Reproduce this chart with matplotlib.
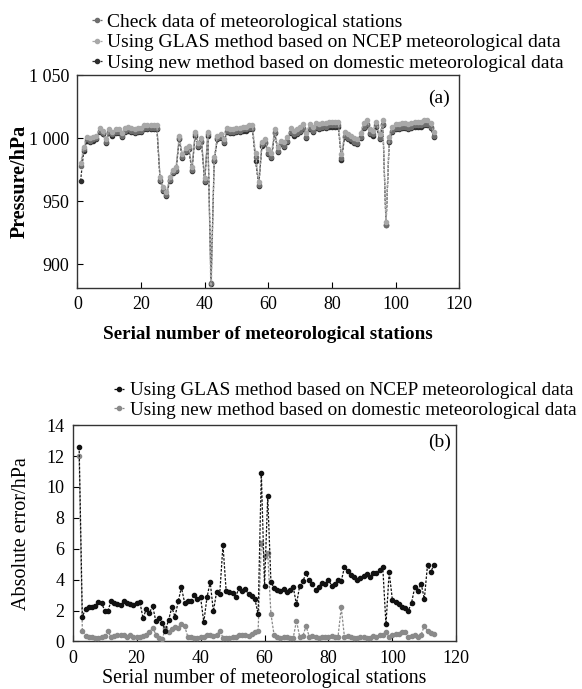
import numpy as np
import matplotlib
matplotlib.use("Agg")
import matplotlib.pyplot as plt

plt.rcParams['font.family'] = ['Liberation Serif', 'DejaVu Serif']

# ---- panel (a): pressure at stations 1..112 ----
stations_a = np.arange(1, 113)
check_data = [
    978, 991, 999, 998, 999, 1000, 1006, 1004, 997, 1005,
    1003, 1005, 1005, 1002, 1006, 1007, 1006, 1005, 1006, 1006,
    1008, 1008, 1008, 1008, 1008, 967, 959, 955, 967, 973,
    975, 1000, 985, 990, 992, 975, 1003, 994, 998, 966,
    1003, 885, 983, 1000, 1001, 997, 1006, 1005, 1005, 1006,
    1006, 1007, 1007, 1008, 1008, 985, 963, 995, 997, 988,
    985, 1005, 990, 996, 994, 998, 1005, 1003, 1004, 1006,
    1008, 1001, 1008, 1006, 1009, 1008, 1009, 1009, 1010, 1010,
    1010, 1010, 984, 1002, 1000, 999, 997, 996, 1001, 1009,
    1011, 1004, 1003, 1010, 1000, 1011, 931, 998, 1006, 1008,
    1008, 1009, 1009, 1008, 1009, 1010, 1010, 1010, 1011, 1011,
    1009, 1002]
glas_pressure = [
    980, 993, 1001, 1000, 1001, 1002, 1008, 1006, 999, 1007,
    1005, 1007, 1007, 1004, 1008, 1009, 1008, 1007, 1008, 1008,
    1010, 1010, 1010, 1010, 1010, 969, 961, 957, 969, 975,
    977, 1002, 987, 992, 994, 977, 1005, 996, 1000, 968,
    1005, 870, 985, 1002, 1003, 999, 1008, 1007, 1007, 1008,
    1008, 1009, 1009, 1010, 1010, 988, 965, 997, 999, 991,
    988, 1007, 993, 998, 997, 1001, 1008, 1006, 1007, 1009,
    1011, 1004, 1011, 1009, 1012, 1011, 1012, 1012, 1013, 1013,
    1013, 1013, 987, 1005, 1003, 1002, 1000, 999, 1004, 1012,
    1014, 1007, 1006, 1013, 1003, 1014, 933, 1001, 1009, 1011,
    1011, 1012, 1012, 1011, 1012, 1013, 1013, 1013, 1014, 1014,
    1012, 1005]
new_pressure = [
    966, 990, 998, 997, 998, 999, 1005, 1003, 996, 1004,
    1002, 1004, 1004, 1001, 1005, 1006, 1005, 1004, 1005, 1005,
    1007, 1007, 1007, 1007, 1007, 966, 958, 954, 966, 972,
    974, 999, 984, 989, 991, 974, 1002, 993, 997, 965,
    1002, 884, 982, 999, 1000, 996, 1005, 1004, 1004, 1005,
    1005, 1006, 1006, 1007, 1007, 982, 962, 994, 996, 987,
    984, 1004, 989, 995, 993, 997, 1004, 1002, 1003, 1005,
    1007, 1000, 1007, 1005, 1008, 1007, 1008, 1008, 1009, 1009,
    1009, 1009, 983, 1001, 999, 998, 996, 995, 1000, 1008,
    1010, 1003, 1002, 1009, 999, 1010, 931, 997, 1005, 1007,
    1007, 1008, 1008, 1007, 1008, 1009, 1009, 1009, 1010, 1010,
    1008, 1001]

# ---- panel (b): absolute error at stations 2..113 ----
stations_b = np.arange(2, 114)
glas_error = [
    12.6, 1.6, 2.1, 2.2, 2.25, 2.3, 2.55, 2.5, 2.0, 2.0,
    2.6, 2.5, 2.4, 2.35, 2.6, 2.5, 2.4, 2.35, 2.5, 2.55,
    1.5, 2.1, 1.85, 2.3, 1.3, 1.55, 1.2, 0.7, 1.4, 2.2,
    1.6, 2.6, 3.5, 2.5, 2.6, 2.6, 3.0, 2.75, 2.85, 1.25,
    2.85, 3.85, 1.95, 3.2, 3.1, 6.25, 3.25, 3.2, 3.15, 2.9,
    3.45, 3.25, 3.4, 3.05, 2.95, 2.75, 1.75, 10.9, 3.6, 9.4,
    3.85, 3.45, 3.35, 3.25, 3.4, 3.2, 3.3, 3.5, 2.4, 3.6,
    3.9, 4.4, 3.95, 3.7, 3.3, 3.55, 3.8, 3.7, 4.0, 3.6,
    3.75, 3.95, 3.9, 4.8, 4.55, 4.3, 4.15, 3.95, 4.1, 4.25,
    4.35, 4.15, 4.4, 4.45, 4.65, 4.8, 1.1, 4.5, 2.7, 2.55,
    2.4, 2.25, 2.15, 2.0, 2.5, 3.5, 3.25, 3.75, 2.75, 4.95,
    4.5, 4.95]
new_error = [
    12.0, 0.7, 0.37, 0.3, 0.27, 0.2, 0.22, 0.27, 0.35, 0.65,
    0.27, 0.35, 0.44, 0.44, 0.44, 0.3, 0.4, 0.27, 0.3, 0.3,
    0.35, 0.42, 0.58, 0.9, 0.45, 0.2, 0.16, 0.84, 0.63, 0.78,
    0.95, 0.9, 1.15, 1.0, 0.3, 0.3, 0.2, 0.25, 0.3, 0.3,
    0.4, 0.45, 0.35, 0.4, 0.7, 0.25, 0.2, 0.2, 0.3, 0.3,
    0.4, 0.45, 0.4, 0.35, 0.5, 0.6, 0.7, 6.4, 5.5, 5.7,
    1.8, 0.4, 0.3, 0.25, 0.3, 0.3, 0.2, 0.25, 1.35, 0.3,
    0.35, 1.0, 0.3, 0.35, 0.3, 0.25, 0.3, 0.3, 0.3, 0.35,
    0.3, 0.3, 2.2, 0.3, 0.35, 0.3, 0.25, 0.2, 0.3, 0.3,
    0.25, 0.25, 0.35, 0.3, 0.4, 0.45, 0.6, 0.3, 0.45, 0.5,
    0.5, 0.6, 0.6, 0.3, 0.35, 0.4, 0.3, 0.45, 1.0, 0.7,
    0.55, 0.5]

fig = plt.figure(figsize=(5.82, 6.89), dpi=100)
ax1 = fig.add_axes([0.133, 0.582, 0.656, 0.309])
ax2 = fig.add_axes([0.125, 0.069, 0.659, 0.314])

style = dict(linestyle=(0, (2, 1.2)), linewidth=0.9, marker='o', markersize=3.0)

ax1.plot(stations_a, new_pressure, color='#2e2e2e', label='Using new method based on domestic meteorological data', zorder=3, **style)
ax1.plot(stations_a, check_data, color='#6e6e6e', label='Check data of meteorological stations', zorder=4, **style)
ax1.plot(stations_a, glas_pressure, color='#a8a8a8', label='Using GLAS method based on NCEP meteorological data', zorder=5, **style)

ax1.set_xlim(0, 120)
ax1.set_ylim(881, 1050)
ax1.set_xticks([0, 20, 40, 60, 80, 100, 120])
ax1.set_yticks([900, 950, 1000, 1050])
ax1.set_yticklabels(['900', '950', '1 000', '1 050'])
ax1.tick_params(direction='in', length=4, labelsize=13, pad=6, top=False, right=False)
ax1.set_xlabel('Serial number of meteorological stations', fontsize=13.8, fontweight='bold', labelpad=9)
ax1.set_ylabel('Pressure/hPa', fontsize=14.5, fontweight='bold', labelpad=-1)
ax1.text(0.975, 0.93, '(a)', transform=ax1.transAxes, fontsize=14, ha='right', va='top')

h, l = ax1.get_legend_handles_labels()
order = [1, 2, 0]
ax1.legend([h[i] for i in order], [l[i] for i in order], loc='lower left',
           bbox_to_anchor=(0.038, 1.015), frameon=False, fontsize=14,
           handlelength=0.5, handletextpad=0.3, labelspacing=0.15,
           borderpad=0, borderaxespad=0)

ax2.plot(stations_b, glas_error, color='#111111', label='Using GLAS method based on NCEP meteorological data', zorder=4, **style)
ax2.plot(stations_b, new_error, color='#8a8a8a', label='Using new method based on domestic meteorological data', zorder=3, **style)

ax2.set_xlim(0, 120)
ax2.set_ylim(0, 14)
ax2.set_xticks([0, 20, 40, 60, 80, 100, 120])
ax2.set_yticks(range(0, 15, 2))
ax2.tick_params(direction='in', length=4, labelsize=13, pad=6, top=False, right=False)
ax2.set_xlabel('Serial number of meteorological stations', fontsize=14.3, labelpad=1)
ax2.set_ylabel('Absolute error/hPa', fontsize=14.5, labelpad=11)
ax2.text(0.985, 0.96, '(b)', transform=ax2.transAxes, fontsize=14, ha='right', va='top')
ax2.legend(loc='lower left', bbox_to_anchor=(0.108, 1.028), frameon=False, fontsize=13.8,
           handlelength=0.5, handletextpad=0.3, labelspacing=0.12,
           borderpad=0, borderaxespad=0)

for ax in (ax1, ax2):
    for s in ax.spines.values():
        s.set_linewidth(1.0)
        s.set_color('#333333')

fig.savefig('out.png', dpi=100)
